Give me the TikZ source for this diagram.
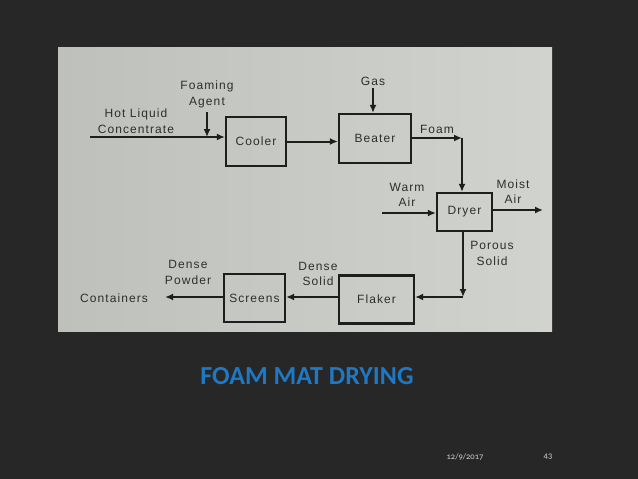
\documentclass[tikz,border=0pt]{standalone}
\usepackage{fontspec}
\setmainfont{Liberation Sans}
\newfontfamily\titlefont{Carlito}
\newfontfamily\footfont[Numbers=OldStyle]{Carlito}
\newfontfamily\diagfont[LetterSpace=9]{Liberation Sans}
\usetikzlibrary{arrows.meta,calc,positioning}
\definecolor{board}{HTML}{272727}
\definecolor{photoL}{HTML}{BEC1BB}
\definecolor{photoR}{HTML}{D0D3CE}
\definecolor{ink}{HTML}{1E1E1E}
\definecolor{inkt}{HTML}{2E2E2E}
\definecolor{titleblue}{HTML}{1F78C3}
\definecolor{footgray}{HTML}{D0D0D0}

\begin{document}
\begin{tikzpicture}[x=1pt,y=-1pt,
box/.style = {draw=ink, line width=2.2pt, inner sep=0pt, text=inkt, font=\diagfont\fontsize{12}{15.5}\selectfont},
lbl/.style = {align=center, inner sep=0pt, text=inkt, font=\diagfont\fontsize{12}{15.5}\selectfont},
flow/.style = {draw=ink, line width=2pt, -{Latex[length=8pt,width=7pt]}}]
\fill[board] (0,0) rectangle (638,479);
\shade[left color=photoL, right color=photoR] (58,47) rectangle (552,331);

\node[box, minimum width=60pt, minimum height=49pt] (cooler) at (256,141.5) {Cooler};
\node[box, minimum width=72pt, minimum height=49pt] (beater) at (375,138.5) {Beater};
\node[box, minimum width=55pt, minimum height=38pt] (dryer) at (464.5,212) {Dryer};
\node[box, minimum width=75pt, minimum height=48pt] (flaker) at (376.5,299.5) {Flaker};
\node[box, minimum width=61pt, minimum height=48pt] (screens) at (254.5,298) {Screens};

\coordinate (hotin) at (90,137);
\coordinate (agent) at (207,112);
\coordinate (gas) at (373,88);
\coordinate (foamturn) at (462,138);
\coordinate (warm) at (382,213);
\coordinate (moist) at (543,210);
\coordinate (solidturn) at (463,297);

\node[lbl] (hotlbl) at (136,121) {Hot Liquid\\Concentrate};
\node[lbl] (agentlbl) at (207,94.5) {Foaming\\Agent};
\node[lbl] (gaslbl) at (373,81) {Gas};
\node[lbl] (foamlbl) at (437,129) {Foam};
\node[lbl] (warmlbl) at (407,195) {Warm\\Air};
\node[lbl] (moistlbl) at (513,191.5) {Moist\\Air};
\node[lbl] (porouslbl) at (492,253.5) {Porous\\Solid};
\node[lbl] (solidlbl) at (318,274) {Dense\\Solid};
\node[lbl] (powderlbl) at (188,272.5) {Dense\\Powder};
\node[lbl] (containers) at (114,298) {Containers};

\draw[flow] (hotin) -- (hotin -| cooler.west);
\draw[flow] (agent) -- (agent |- hotin);
\draw[flow] (cooler.east) -- (cooler.east -| beater.west);
\draw[flow] (gas) -- (gas |- beater.north);
\draw[flow] (beater.east |- foamturn) -- (foamturn);
\draw[flow] (foamturn) -- (foamturn |- dryer.north);
\draw[flow] (warm) -- (warm -| dryer.west);
\draw[flow] (dryer.east |- moist) -- (moist);
\draw[flow] (solidturn |- dryer.south) -- (solidturn);
\draw[flow] (solidturn) -- (solidturn -| flaker.east);
\draw[flow] (flaker.west |- solidturn) -- (solidturn -| screens.east);
\draw[flow, shorten >=17pt] (screens.west |- solidturn) -- (containers.east |- solidturn);

\node[text=titleblue, font=\titlefont\bfseries\fontsize{26}{30}\selectfont] (title) at (307,376) {FOAM MAT DRYING};
\node[text=footgray, font=\footfont\fontsize{8.5}{10}\selectfont] (date) at (465,457) {12/9/2017};
\node[text=footgray, font=\footfont\fontsize{8.5}{10}\selectfont] (page) at (548,457) {43};
\end{tikzpicture}
\end{document}
